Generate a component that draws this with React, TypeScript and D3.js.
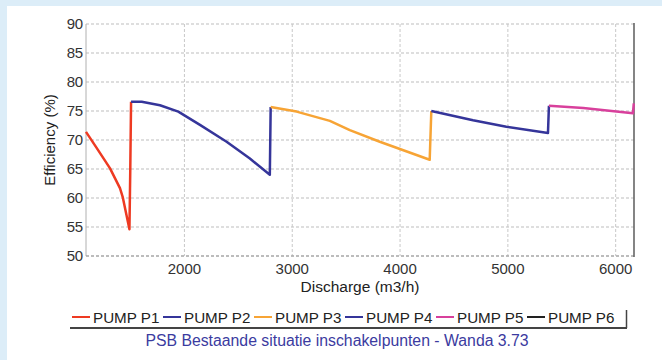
import React from "react";
import * as d3 from "d3";

const xTicks = [2000, 3000, 4000, 5000, 6000];
const yTicks = [50, 55, 60, 65, 70, 75, 80, 85, 90];

const p1Q = [1087, 1187, 1310, 1402, 1427, 1490, 1498, 1505];
const p1E = [71.4, 68.6, 65.1, 61.7, 60.2, 54.6, 65.4, 76.6];
const p2Q = [1505, 1604, 1773, 1943, 2144, 2391, 2607, 2792, 2800];
const p2E = [76.6, 76.6, 76.0, 74.9, 72.6, 69.7, 66.8, 64.0, 75.7];
const p3Q = [2800, 3040, 3349, 3534, 3812, 4275, 4290];
const p3E = [75.7, 74.9, 73.3, 71.7, 69.7, 66.6, 75.0];
const p4Q = [4290, 4677, 4986, 5372, 5381];
const p4E = [75.0, 73.4, 72.3, 71.2, 75.9];
const p5Q = [5381, 5700, 6160, 6168];
const p5E = [75.9, 75.5, 74.6, 76.3];
const p6Q: number[] = [];
const p6E: number[] = [];

const seriesNames = ["PUMP P1", "PUMP P2", "PUMP P3", "PUMP P4", "PUMP P5", "PUMP P6"];
const seriesColors = ["#ee3a22", "#35359a", "#f7a435", "#35359a", "#d8409c", "#222222"];
const seriesQ = [p1Q, p2Q, p3Q, p4Q, p5Q, p6Q];
const seriesE = [p1E, p2E, p3E, p4E, p5E, p6E];

const title = "Discharge (m3/h)";
const yTitle = "Efficiency (%)";
const subtitle = "PSB Bestaande situatie inschakelpunten -  Wanda 3.73";

export default function App() {
  const W = 662, H = 360;
  const L = 86, T = 24, R = 634, B = 256;
  const x = d3.scaleLinear().domain([1087, 6170]).range([L, R]);
  const y = d3.scaleLinear().domain([50, 90]).range([B, T]);
  const font = "'Liberation Sans', Arial, sans-serif";
  const line = d3.line<[number, number]>().x(d => x(d[0])).y(d => y(d[1]));

  const legStart = 72, legStep = 91;

  return (
    <svg width={W} height={H} style={{ position: "absolute", left: 0, top: 0 }} fontFamily={font}>
      <rect x={0} y={0} width={W} height={H} fill="#dcedf8" />
      <rect x={7} y={6} width={W - 7} height={H - 6} fill="#ffffff" />
      {/* grid */}
      {yTicks.map(t => (
        <line key={"gy" + t} x1={L} x2={R} y1={y(t)} y2={y(t)} stroke="#bdbdbd" strokeDasharray="3,2" strokeWidth={1} />
      ))}
      {xTicks.map(t => (
        <line key={"gx" + t} x1={x(t)} x2={x(t)} y1={T} y2={B} stroke="#c8c8c8" strokeDasharray="3,2" strokeWidth={1} />
      ))}
      <line x1={L} x2={L} y1={T} y2={B} stroke="#b0b0b0" strokeWidth={1} />
      <line x1={L} x2={R} y1={B} y2={B} stroke="#999" strokeDasharray="3,2" strokeWidth={1.2} />
      <line x1={R} x2={R} y1={T - 1} y2={B + 1} stroke="#666" strokeWidth={1.6} />
      {/* ticks */}
      {yTicks.map(t => (
        <text key={"ty" + t} x={L - 3} y={y(t)} dy="0.36em" textAnchor="end" fontSize={15} fill="#333" letterSpacing={-0.2}>{t}</text>
      ))}
      {xTicks.map(t => (
        <text key={"tx" + t} x={x(t)} y={273.5} textAnchor="middle" fontSize={15} fill="#333">{t}</text>
      ))}
      <text x={(L + R) / 2} y={292} textAnchor="middle" fontSize={15.5} fill="#222">{title}</text>
      <text transform={`translate(55,${(T + B) / 2}) rotate(-90)`} textAnchor="middle" fontSize={15} fill="#222">{yTitle}</text>
      {/* series */}
      {seriesQ.map((qs, i) => {
        if (qs.length === 0) return null;
        const pts = qs.map((q, j) => [q, seriesE[i][j]] as [number, number]);
        return <path key={"s" + i} d={line(pts) || ""} fill="none" stroke={seriesColors[i]} strokeWidth={2.5} strokeLinejoin="round" />;
      })}
      {/* legend */}
      <line x1={70} x2={627} y1={328} y2={328} stroke="#444" strokeWidth={1.8} />
      <line x1={626.5} x2={626.5} y1={310} y2={328} stroke="#444" strokeWidth={1.5} />
      {seriesNames.map((n, i) => {
        const sx = legStart + i * legStep;
        return (
          <g key={"l" + i}>
            <line x1={sx} x2={sx + 18} y1={317} y2={317} stroke={seriesColors[i]} strokeWidth={2} />
            <text x={sx + 21} y={322.5} fontSize={15.2} fill="#222">{n}</text>
          </g>
        );
      })}
      <text x={337} y={345.5} textAnchor="middle" fontSize={15.8} fill="#3b3ba0">{subtitle}</text>
    </svg>
  );
}
